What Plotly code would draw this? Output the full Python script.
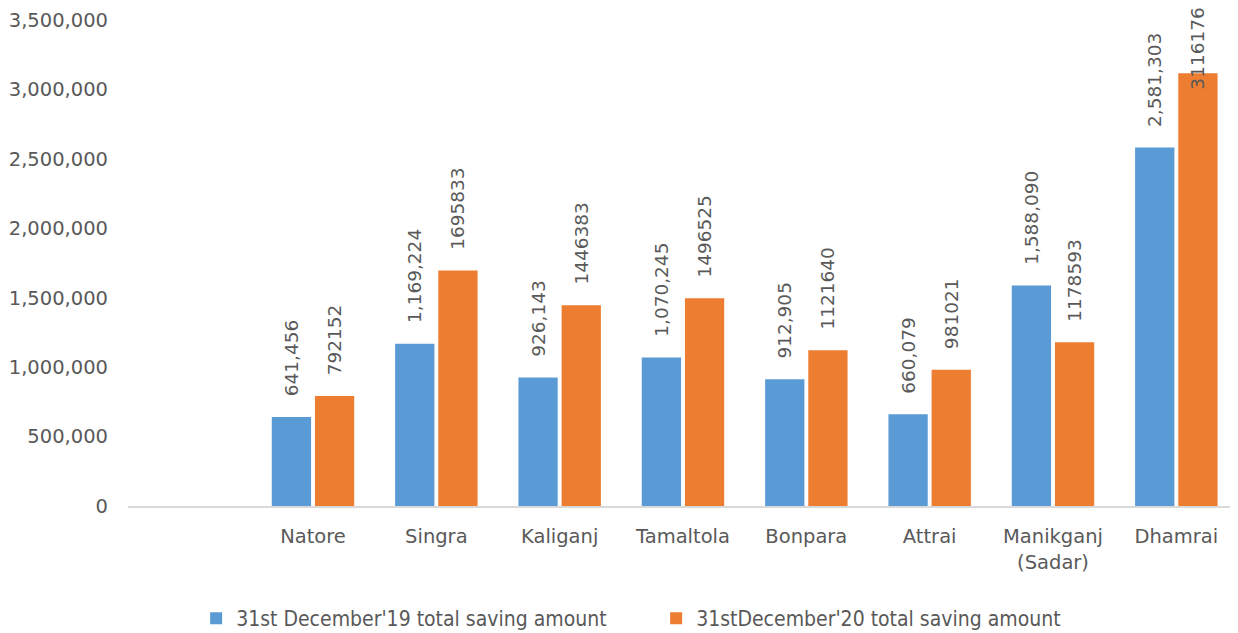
import plotly.graph_objects as go

categories = ["Natore", "Singra", "Kaliganj", "Tamaltola", "Bonpara", "Attrai",
              "Manikganj<br>(Sadar)", "Dhamrai"]
saving_2019 = [641456, 1169224, 926143, 1070245, 912905, 660079, 1588090, 2581303]
saving_2020 = [792152, 1695833, 1446383, 1496525, 1121640, 981021, 1178593, 3116176]
series_names = ["31st December'19 total saving amount", "31stDecember'20 total saving amount"]
y_ticks = [0, 500000, 1000000, 1500000, 2000000, 2500000, 3000000, 3500000]

TXT = "#595959"
FONT = "DejaVu Sans"
PAD = "\u00a0\u00a0\u00a0"

labels_2019 = [PAD + f"{v:,}" for v in saving_2019]
labels_2020 = [PAD + f"{v}" for v in saving_2020]
labels_2020_shown = labels_2020[:-1] + [""]

fig = go.Figure()
fig.add_trace(go.Bar(
    x=categories, y=saving_2019, name=series_names[0],
    marker=dict(color="#5B9BD5", line=dict(width=0)),
    text=labels_2019, textposition="outside", textangle=-90, constraintext="none",
    textfont=dict(family=FONT, size=18.5, color=TXT), cliponaxis=False,
))
fig.add_trace(go.Bar(
    x=categories, y=saving_2020, name=series_names[1],
    marker=dict(color="#ED7D31", line=dict(width=0)),
    text=labels_2020_shown, textposition="outside", textangle=-90, constraintext="none",
    textfont=dict(family=FONT, size=18.5, color=TXT), cliponaxis=False,
))
fig.add_annotation(
    x=categories[-1], y=saving_2020[-1], xref="x", yref="y",
    text=str(saving_2020[-1]), textangle=-90, showarrow=False,
    xanchor="center", yanchor="bottom", xshift=21, yshift=-18,
    font=dict(family=FONT, size=18.5, color=TXT),
)

fig.update_layout(
    width=1230, height=625,
    paper_bgcolor="white", plot_bgcolor="white",
    margin=dict(l=120, r=0, t=12, b=127, autoexpand=False),
    barmode="group", bargap=0.3, bargroupgap=0.09,
    showlegend=True,
    legend=dict(orientation="h", x=0.0614, xanchor="left", y=-0.1895, yanchor="top",
                font=dict(family="DejaVu Sans Condensed", size=21, color=TXT),
                itemwidth=30, tracegroupgap=0, entrywidth=415, entrywidthmode="pixels"),
    font=dict(family=FONT, size=18, color=TXT),
)
fig.update_xaxes(range=[-1.5, 7.5], showgrid=False, showline=True, linecolor="#D9D9D9",
                 linewidth=2, ticks="", automargin=False, ticklabelstandoff=12,
                 tickfont=dict(family=FONT, size=19.5, color=TXT))
fig.update_yaxes(range=[0, 3500000], tickvals=y_ticks, tickformat=",", showgrid=False,
                 zeroline=False, showline=False, ticks="", ticklabelstandoff=19,
                 automargin=False, tickfont=dict(family=FONT, size=19.5, color=TXT))

fig.write_html("out.html")
